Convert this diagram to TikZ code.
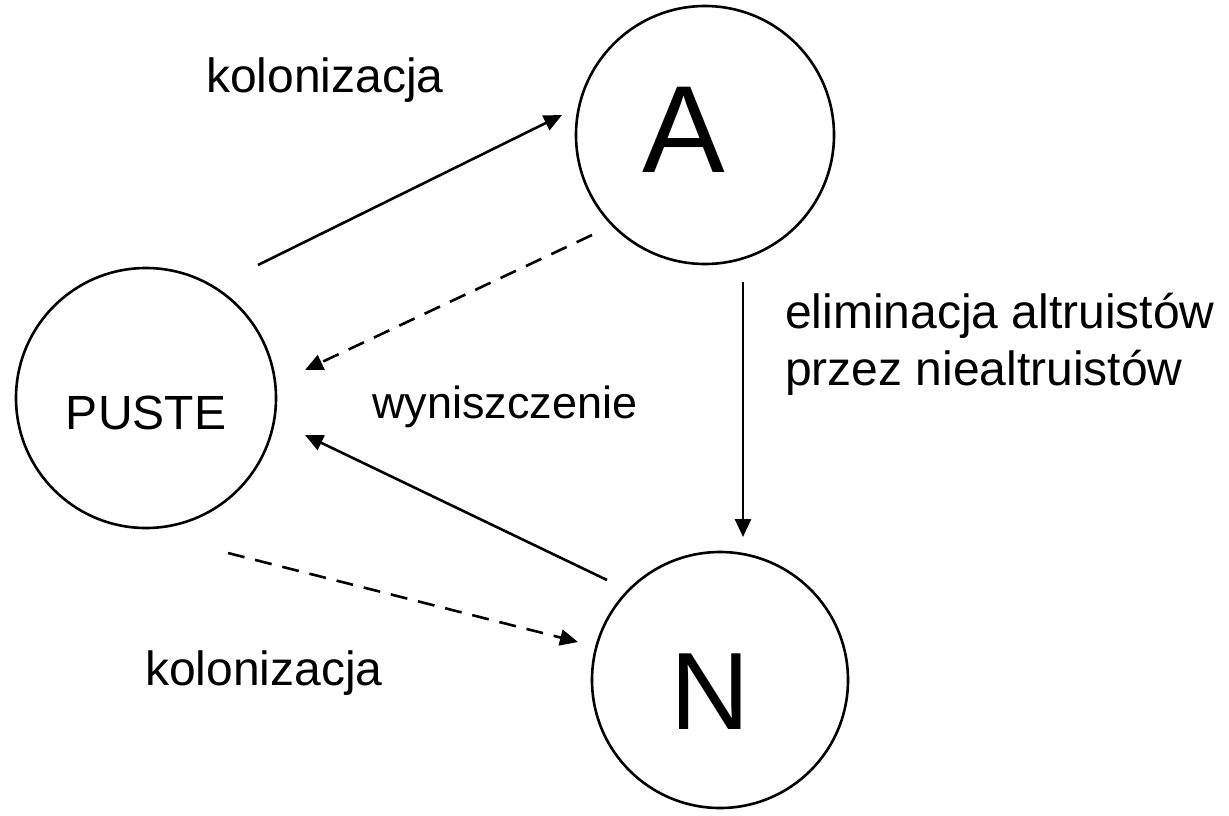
\documentclass[tikz,border=0pt]{standalone}
\usepackage{fontspec}
\setmainfont{Liberation Sans}
\usetikzlibrary{arrows.meta}
\begin{document}
\begin{tikzpicture}[x=1pt,y=-1pt,
  state/.style={circle,draw,line width=2.6pt,minimum size=#1,inner sep=0pt},
  conn/.style={line width=2.6pt,-{Triangle[length=18pt,width=16pt]}},
  dconn/.style={conn,dash pattern=on 17pt off 11pt},
  lbl/.style={font=\fontsize{48}{57}\selectfont,inner sep=0pt}]
\useasboundingbox (0,0) rectangle (1229,815);
\node[state=258pt] (A) at (705,135) {};
\node[font=\fontsize{124}{124}\selectfont] (Atxt) at (684,130) {A};
\node[state=260pt] (P) at (146,398) {};
\node[lbl] (Ptxt) at (146,413) {PUSTE};
\node[state=256pt] (N) at (720,680) {};
\node[font=\fontsize{110}{110}\selectfont] (Ntxt) at (710,692) {N};
\coordinate (s1) at (258,265); \coordinate (e1) at (562,115);
\coordinate (s2) at (592,235); \coordinate (e2) at (305,370);
\coordinate (s3) at (743,282); \coordinate (e3) at (743,537);
\coordinate (s4) at (607,580); \coordinate (e4) at (305,435);
\coordinate (s5) at (228,553); \coordinate (e5) at (578,642);
\draw[conn] (s1) -- (e1);
\draw[dconn] (s2) -- (e2);
\draw[conn] (s3) -- (e3);
\draw[conn] (s4) -- (e4);
\draw[dconn] (s5) -- (e5);
\node[lbl,anchor=base west] (k1) at (206,92) {kolonizacja};
\node[lbl,anchor=base west] (k2) at (145,685) {kolonizacja};
\node[lbl,anchor=base west,font=\fontsize{45}{54}\selectfont] (w) at (372,418) {wyniszczenie};
\node[lbl,anchor=base west,align=left] (el) at (785,385) {eliminacja altruistów\\przez niealtruistów};
\end{tikzpicture}
\end{document}
